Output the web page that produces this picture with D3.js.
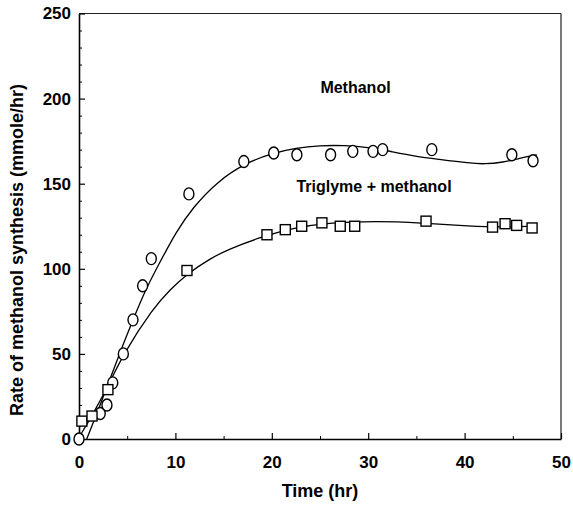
<!DOCTYPE html>
<html>
<head>
<meta charset="utf-8">
<script src="https://cdn.jsdelivr.net/npm/d3@7"></script>
<style>
  body { margin: 0; background: #fff; }
  text { font-family: "Liberation Sans", Arial, sans-serif; font-weight: bold; fill: #000; }
</style>
</head>
<body>
<div id="chart"></div>
<script>
// methanol (circles)
const methTime = [0, 2.2, 2.9, 3.5, 4.6, 5.6, 6.6, 7.5, 11.4, 17.1, 20.2, 22.6, 26.1, 28.4, 30.5, 31.5, 36.6, 44.9, 47.1];
const methRate = [0, 15, 20, 33, 50, 70, 90, 106, 144, 163, 168, 167, 167, 169, 169, 170, 170, 167, 163.5];
// triglyme + methanol (squares)
const trigTime = [0.3, 1.35, 3.0, 11.2, 19.5, 21.4, 23.1, 25.2, 27.1, 28.6, 36, 42.9, 44.2, 45.4, 47];
const trigRate = [10.5, 13.5, 29, 99, 120, 123, 125, 127, 125, 125, 128, 124.5, 126.5, 125.5, 124];
// fitted curves
const methFitTime = [0.8, 2, 3.2, 4.4, 5.6, 7, 8.6, 10, 11.8, 14.3, 17.2, 20.1, 22.5, 25, 27.5, 30, 32.3, 35, 37.1, 40.6, 42, 44, 45.7, 47.5];
const methFitRate = [0, 17, 35, 53, 70, 89, 106, 121, 136, 151, 162, 168, 171, 172.5, 172.5, 171.5, 169, 166, 164.5, 162, 161.5, 162.5, 165, 167];
const trigFitTime = [0, 1.35, 3, 4.6, 7.7, 9.5, 11.2, 13.6, 15.5, 18.8, 22.2, 25.7, 30.9, 35.4, 40.6, 44, 47];
const trigFitRate = [1, 13.5, 31, 50, 77, 88, 97, 106, 111.5, 118.5, 124, 127, 128, 127, 125, 124.5, 125];

const xMajor = [0, 10, 20, 30, 40, 50];
const xMinor = [5, 15, 25, 35, 45];
const yMajor = [0, 50, 100, 150, 200, 250];
const yMinor = [10, 20, 30, 40, 60, 70, 80, 90, 110, 120, 130, 140, 160, 170, 180, 190, 210, 220, 230, 240];

const width = 573, height = 507;
const margin = { left: 79, right: 12, top: 13.5, bottom: 68 };

const svg = d3.select("#chart").append("svg")
  .attr("width", width).attr("height", height);

const x = d3.scaleLinear().domain([0, 50]).range([margin.left, width - margin.right]);
const y = d3.scaleLinear().domain([0, 250]).range([height - margin.bottom, margin.top]);

// frame: top and right
svg.append("line").attr("x1", x(0)).attr("x2", x(50)).attr("y1", y(250)).attr("y2", y(250))
  .attr("stroke", "#222").attr("stroke-width", 1);
svg.append("line").attr("x1", x(50)).attr("x2", x(50)).attr("y1", y(0)).attr("y2", y(250))
  .attr("stroke", "#222").attr("stroke-width", 1.2);

// minor ticks
svg.append("g").attr("transform", `translate(0,${y(0)})`)
  .call(d3.axisBottom(x).tickValues(xMinor).tickSize(-3).tickSizeOuter(0).tickFormat(""))
  .call(g => g.select(".domain").remove());
svg.append("g").attr("transform", `translate(${x(0)},0)`)
  .call(d3.axisLeft(y).tickValues(yMinor).tickSize(-3).tickSizeOuter(0).tickFormat(""))
  .call(g => g.select(".domain").remove());

// major axes
const xAxis = svg.append("g").attr("transform", `translate(0,${y(0)})`)
  .call(d3.axisBottom(x).tickValues(xMajor).tickSize(-6).tickSizeOuter(0).tickPadding(17));
const yAxis = svg.append("g").attr("transform", `translate(${x(0)},0)`)
  .call(d3.axisLeft(y).tickValues(yMajor).tickSize(-6).tickSizeOuter(0).tickPadding(8));

[xAxis, yAxis].forEach(g => {
  g.select(".domain").attr("stroke", "#000").attr("stroke-width", 1.6);
  g.selectAll(".tick line").attr("stroke", "#000").attr("stroke-width", 1.2);
  g.selectAll(".tick text").style("font-size", "17px").style("font-family", "Liberation Sans, Arial, sans-serif")
    .style("font-weight", "bold").attr("fill", "#000");
});

// fitted lines
const line = d3.line().x(d => x(d[0])).y(d => y(d[1])).curve(d3.curveBasis);
svg.append("path").datum(d3.zip(methFitTime, methFitRate))
  .attr("fill", "none").attr("stroke", "#000").attr("stroke-width", 1.3).attr("d", line);
svg.append("path").datum(d3.zip(trigFitTime, trigFitRate))
  .attr("fill", "none").attr("stroke", "#000").attr("stroke-width", 1.3).attr("d", line);

// markers
svg.append("g").selectAll("ellipse").data(d3.zip(methTime, methRate)).enter()
  .append("ellipse")
  .attr("cx", d => x(d[0])).attr("cy", d => y(d[1]))
  .attr("rx", 5).attr("ry", 6)
  .attr("fill", "#fff").attr("stroke", "#000").attr("stroke-width", 1.4);
svg.append("g").selectAll("rect").data(d3.zip(trigTime, trigRate)).enter()
  .append("rect")
  .attr("x", d => x(d[0]) - 5).attr("y", d => y(d[1]) - 5)
  .attr("width", 10).attr("height", 10)
  .attr("fill", "#fff").attr("stroke", "#000").attr("stroke-width", 1.4);

// series labels
svg.append("text").attr("x", 355.5).attr("y", 93).attr("text-anchor", "middle")
  .style("font-size", "16px").text("Methanol");
svg.append("text").attr("x", 374).attr("y", 192).attr("text-anchor", "middle")
  .style("font-size", "16px").text("Triglyme + methanol");

// axis titles
svg.append("text").attr("x", (x(0) + x(50)) / 2).attr("y", 497).attr("text-anchor", "middle")
  .style("font-size", "18px").text("Time (hr)");
svg.append("text").attr("transform", "translate(23,250) rotate(-90)").attr("text-anchor", "middle")
  .style("font-size", "18px").text("Rate of methanol synthesis (mmole/hr)");
</script>
</body>
</html>
